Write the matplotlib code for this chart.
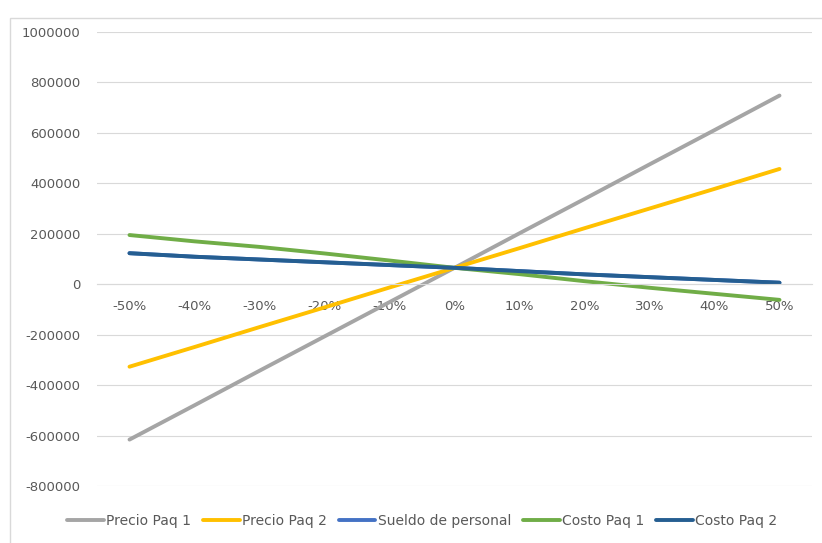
import matplotlib
matplotlib.use("Agg")
import matplotlib.pyplot as plt
from matplotlib.patches import Rectangle
from matplotlib.ticker import FuncFormatter

categories = ["-50%", "-40%", "-30%", "-20%", "-10%", "0%", "10%", "20%", "30%", "40%", "50%"]
precio_paq1 = [-616000, -480000, -343000, -207000, -71000, 65000, 202000, 338000, 475000, 611000, 748000]
precio_paq2 = [-327000, -249000, -170000, -92000, -13000, 65000, 143000, 222000, 300000, 378000, 457000]
sueldo_personal = [123000, 109000, 98000, 87000, 76000, 65000, 52000, 39000, 28000, 17000, 6000]
costo_paq1 = [195000, 170000, 148000, 122000, 94000, 65000, 40000, 12000, -14000, -38000, -62000]
costo_paq2 = [123000, 109000, 98000, 87000, 76000, 65000, 52000, 39000, 28000, 17000, 6000]

series = [
    ("Precio Paq 1", precio_paq1, "#A5A5A5"),
    ("Precio Paq 2", precio_paq2, "#FFC000"),
    ("Sueldo de personal", sueldo_personal, "#4472C4"),
    ("Costo Paq 1", costo_paq1, "#70AD47"),
    ("Costo Paq 2", costo_paq2, "#255E91"),
]

plt.rcParams['font.family'] = ['DejaVu Sans']
text_color = "#595959"
grid_color = "#D9D9D9"

fig = plt.figure(figsize=(8.22, 5.43), dpi=100)
fig.patches.append(Rectangle((9.5/822, -0.05), 1.1, 1 - 18/543 + 0.05,
                             transform=fig.transFigure, fill=False,
                             edgecolor=grid_color, linewidth=1.0, zorder=0))

ax = fig.add_axes([97/822, 1 - 486/543, 715/822, (486 - 32)/543])
x = list(range(len(categories)))
for name, vals, col in series:
    ax.plot(x, vals, color=col, linewidth=2.8, label=name, solid_capstyle="round")

ax.set_xlim(-0.5, len(categories) - 0.5)
ax.set_ylim(-800000, 1000000)
ax.set_yticks(range(-800000, 1000001, 200000))
ax.yaxis.set_major_formatter(FuncFormatter(lambda v, p: f"{int(v)}"))
ax.set_xticks(x)
ax.set_xticklabels(categories)

ax.grid(axis="y", color=grid_color, linewidth=0.8)
ax.set_axisbelow(True)
for s in ["top", "right", "left"]:
    ax.spines[s].set_visible(False)
ax.spines["bottom"].set_position(("data", 0))
ax.spines["bottom"].set_color(grid_color)
ax.spines["bottom"].set_linewidth(0.8)
ax.tick_params(axis="both", length=0, labelsize=9.5, labelcolor=text_color)
ax.tick_params(axis="y", pad=12)
ax.tick_params(axis="x", pad=11)

fig.legend(loc="center", bbox_to_anchor=(422/822, 1 - 521/543), ncol=5, frameon=False,
           fontsize=10, labelcolor=text_color, handlelength=2.66, handletextpad=0.15,
           columnspacing=0.85)

fig.savefig("out.png", dpi=100)
